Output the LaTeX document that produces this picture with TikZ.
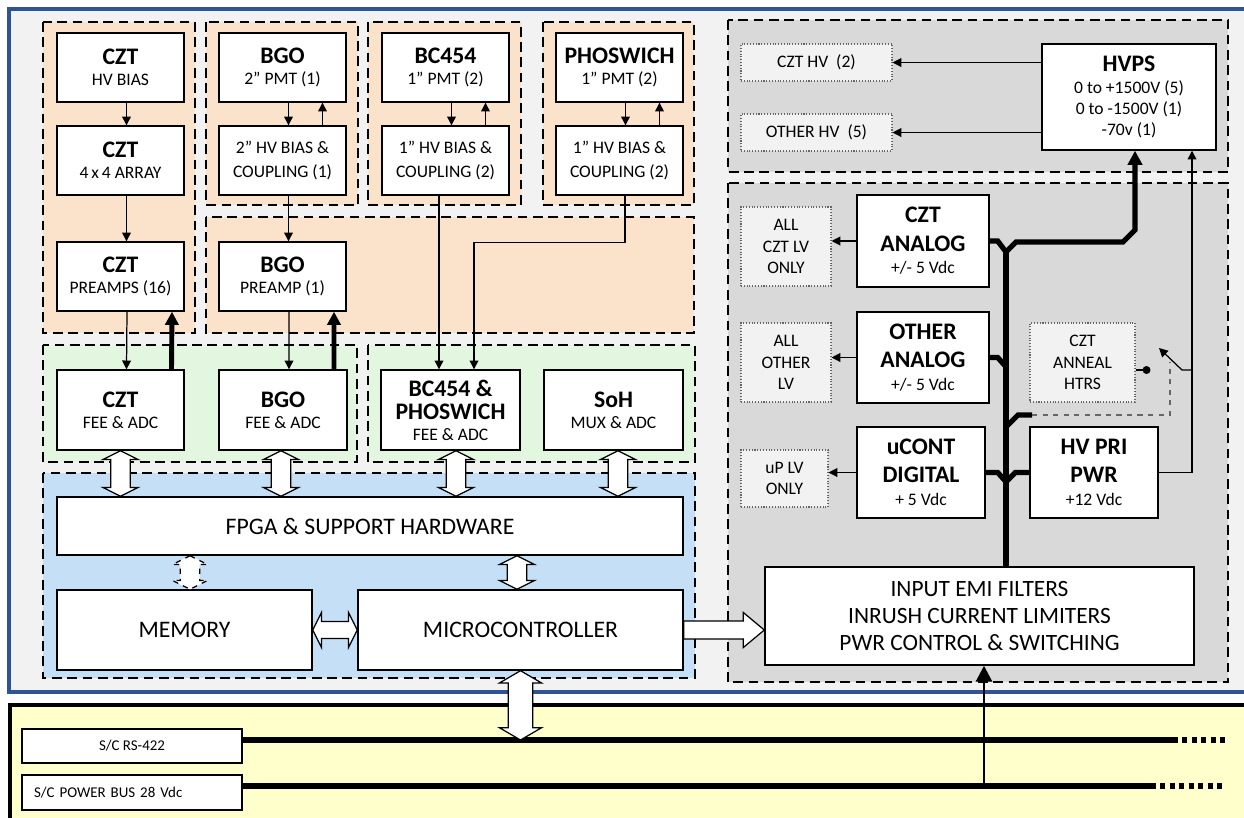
\documentclass[tikz,border=0pt]{standalone}
\usepackage{fontspec}
\setmainfont{Carlito}
\usetikzlibrary{arrows.meta,calc}

\definecolor{outerbg}{RGB}{242,242,242}
\definecolor{orangebg}{RGB}{251,226,203}
\definecolor{greenbg}{RGB}{226,246,224}
\definecolor{bluebg}{RGB}{197,223,247}
\definecolor{graybg}{RGB}{217,217,217}
\definecolor{yellowbg}{RGB}{255,255,204}
\definecolor{frameblue}{RGB}{47,84,150}

\newcommand{\hd}[1]{{\fontsize{13.5}{16}\selectfont\bfseries #1}}
\def\fhw{10pt}
\def\fsw{5.5pt}
\def\fhl{5pt}

\begin{document}
\begin{tikzpicture}[
  x=0.02cm, y=-0.02cm,
  font=\fontsize{10}{12}\selectfont,
  sz/.style 2 args={minimum width=#1*0.02cm, minimum height=#2*0.02cm},
  wbox/.style={draw, fill=white, line width=0.8pt, align=center, inner sep=0pt},
  big/.style={font=\fontsize{13.5}{15}\selectfont},
  dotbox/.style={draw=black!60, densely dotted, line width=0.6pt, fill=outerbg, align=center, inner sep=0pt, font=\fontsize{10}{12.3}\selectfont},
  region/.style={line width=1.5pt, dash pattern=on 5.5pt off 3.2pt},
  sig/.style={line width=0.7pt, -{Triangle[length=5pt,width=5pt]}},
  pwr/.style={line width=2.8pt, -{Triangle[length=7.5pt,width=7.5pt]}},
  bus/.style={line width=3pt},
  busdots/.style={line width=3pt, dash pattern=on 2.8pt off 2.6pt},
  ctrl/.style={line width=0.7pt, dashed, black!60},
  fatbox/.style={draw, fill=white, line width=0.7pt},
  fatsize/.code n args={3}{\def\fhw{#1}\def\fsw{#2}\def\fhl{#3}},
  fatv/.style={to path={let \p1=(\tikztostart), \p2=(\tikztotarget), \n1={sign(\y2-\y1)*\fhl} in
    (\x1,\y1) -- ({\x1+\fhw},{\y1+\n1}) -- ({\x1+\fsw},{\y1+\n1}) -- ({\x1+\fsw},{\y2-\n1})
    -- ({\x1+\fhw},{\y2-\n1}) -- (\x1,\y2) -- ({\x1-\fhw},{\y2-\n1}) -- ({\x1-\fsw},{\y2-\n1})
    -- ({\x1-\fsw},{\y1+\n1}) -- ({\x1-\fhw},{\y1+\n1}) -- cycle}},
  fath/.style={to path={let \p1=(\tikztostart), \p2=(\tikztotarget), \n1={sign(\x2-\x1)*\fhl} in
    (\x1,\y1) -- ({\x1+\n1},{\y1+\fhw}) -- ({\x1+\n1},{\y1+\fsw}) -- ({\x2-\n1},{\y1+\fsw})
    -- ({\x2-\n1},{\y1+\fhw}) -- (\x2,\y1) -- ({\x2-\n1},{\y1-\fhw}) -- ({\x2-\n1},{\y1-\fsw})
    -- ({\x1+\n1},{\y1-\fsw}) -- ({\x1+\n1},{\y1-\fhw}) -- cycle}},
  fatr/.style={to path={let \p1=(\tikztostart), \p2=(\tikztotarget) in
    (\x1,{\y1+\fsw}) -- ({\x2-\fhl},{\y1+\fsw}) -- ({\x2-\fhl},{\y1+\fhw}) -- (\x2,\y1)
    -- ({\x2-\fhl},{\y1-\fhw}) -- ({\x2-\fhl},{\y1-\fsw}) -- (\x1,{\y1-\fsw}) -- cycle}}
]
\useasboundingbox (0,0) rectangle (1244,818);

% outer frame and spacecraft panel (both run off the right edge)
\fill[outerbg] (9,9) rectangle (1244,692);
\draw[frameblue, line width=1.8pt] (1244,9) -- (9,9) -- (9,692) -- (1244,692);
\fill[yellowbg] (10,705) rectangle (1244,818);
\draw[line width=1.8pt] (1244,705) -- (10,705) -- (10,818);

% dashed regions
\foreach \xa/\ya/\xb/\yb in {43/22/195/333, 206/22/358/205, 368/22/521/205, 543/22/694/205, 206/217/694/333}
  \draw[region, fill=orangebg] (\xa,\ya) rectangle (\xb,\yb);
\foreach \xa/\xb in {43/357, 368/695}
  \draw[region, fill=greenbg] (\xa,345) rectangle (\xb,462);
\draw[region, fill=bluebg] (43,473) rectangle (695,678);
\draw[region, fill=graybg] (728,20) rectangle (1228,172);
\draw[region, fill=graybg] (728,183) rectangle (1228,682);

% detector chains
\node[wbox, sz={127}{69}] (cztbias) at (120.5,67.5) {\hd{CZT}\\HV BIAS};
\node[wbox, sz={127}{69}] (cztarr) at (120.5,160.5) {\hd{CZT}\\4\,x\,4 ARRAY};
\node[wbox, sz={127}{69}] (cztpre) at (120.5,276.5) {\hd{CZT}\\PREAMPS (16)};
\node[wbox, sz={127}{69}] (bgopmt) at (282.5,67.5) {\hd{BGO}\\2” PMT (1)};
\node[wbox, sz={127}{69}] (bgobias) at (282.5,160.5) {2” HV BIAS \&\\[2pt]COUPLING (1)};
\node[wbox, sz={127}{69}] (bgopre) at (282.5,276.5) {\hd{BGO}\\PREAMP (1)};
\node[wbox, sz={127}{69}] (bcpmt) at (445.5,67.5) {\hd{BC454}\\1” PMT (2)};
\node[wbox, sz={127}{69}] (bcbias) at (445.5,160.5) {1” HV BIAS \&\\[2pt]COUPLING (2)};
\node[wbox, sz={127}{69}] (phpmt) at (619.5,67.5) {\hd{PHOSWICH}\\1” PMT (2)};
\node[wbox, sz={127}{69}] (phbias) at (619.5,160.5) {1” HV BIAS \&\\[2pt]COUPLING (2)};

% front ends
\node[wbox, sz={127}{80}] (cztfee) at (120.5,410) {\hd{CZT}\\FEE \& ADC};
\node[wbox, sz={128}{80}] (bgofee) at (283,410) {\hd{BGO}\\FEE \& ADC};
\node[wbox, sz={139}{80}] (bcfee) at (450.5,410) {\hd{BC454 \&}\\[1pt]\hd{PHOSWICH}\\FEE \& ADC};
\node[wbox, sz={139}{80}] (sohfee) at (613.5,410) {\hd{SoH}\\MUX \& ADC};

% processing
\node[wbox, big, sz={626}{58}] (fpga) at (370,526) {FPGA \& SUPPORT HARDWARE};
\node[wbox, big, sz={255}{80}] (mem) at (184.5,630) {MEMORY};
\node[wbox, big, sz={325}{80}] (uc) at (520.5,630) {MICROCONTROLLER};
\node[wbox, sz={429}{98}, font=\fontsize{13.3}{15.5}\selectfont] (emi) at (979.5,616) {INPUT EMI FILTERS\\INRUSH CURRENT LIMITERS\\PWR CONTROL \& SWITCHING};

% power supplies
\node[dotbox, sz={151}{37}] (czthv) at (816.5,62.5) {CZT HV\ \ (2)};
\node[dotbox, sz={151}{37}] (othhv) at (816.5,132.5) {OTHER HV\ \ (5)};
\node[wbox, sz={174}{106}] (hvps) at (1129,97) {\hd{HVPS}\\0 to +1500V (5)\\0 to -1500V (1)\\-70v (1)};
\node[dotbox, sz={90}{79}] (cztlv) at (786,246.5) {ALL\\CZT LV\\ONLY};
\node[wbox, sz={132}{92}] (cztana) at (923,241) {\hd{CZT}\\[4pt]\hd{ANALOG}\\[1pt]+/- 5 Vdc};
\node[dotbox, sz={90}{79}] (othlv) at (786,362.5) {ALL\\OTHER\\LV};
\node[wbox, sz={132}{91}] (othana) at (923,357.5) {\hd{OTHER}\\[4pt]\hd{ANALOG}\\[1pt]+/- 5 Vdc};
\node[dotbox, sz={105}{79}] (anneal) at (1082.5,362.5) {CZT\\ANNEAL\\HTRS};
\node[dotbox, sz={87}{57}] (uplv) at (784.5,478.5) {uP LV\\ONLY};
\node[wbox, sz={128}{91}] (ucdig) at (921,472.5) {\hd{uCONT}\\[4pt]\hd{DIGITAL}\\[1pt]+ 5 Vdc};
\node[wbox, sz={128}{91}] (hvpri) at (1094,472.5) {\hd{HV PRI}\\[4pt]\hd{PWR}\\[1pt]+12 Vdc};

% spacecraft interfaces
\node[wbox, sz={220}{34}, font=\fontsize{8.5}{10}\selectfont] (rs) at (132,746) {S/C RS-422};
\node[wbox, sz={220}{35}, font=\fontsize{8.5}{10}\selectfont, align=left, text width=196*0.02cm] (pbus) at (132,792.5) {S/C POWER BUS 28 Vdc};

% detector signal paths
\draw[sig] ($(cztbias.south)+(6,0)$) -- ($(cztarr.north)+(6,0)$);
\draw[sig] ($(cztarr.south)+(6,0)$) -- ($(cztpre.north)+(6,0)$);
\foreach \pmt/\bias in {bgopmt/bgobias, bcpmt/bcbias, phpmt/phbias}{
  \draw[sig] ($(\pmt.south)+(6,0)$) -- ($(\bias.north)+(6,0)$);
  \draw[sig] ($(\bias.north)+(40,0)$) -- ($(\pmt.south)+(40,0)$);
}
\draw[sig] ($(bgobias.south)+(6,0)$) -- ($(bgopre.north)+(6,0)$);
\foreach \pre/\fee in {cztpre/cztfee, bgopre/bgofee}{
  \draw[sig] ($(\pre.south)+(6.5,0)$) -- ($(\fee.north)+(6,0)$);
  \draw[pwr] ($(\fee.north)+(51,0)$) -- ($(\pre.south)+(51.5,0)$);
}
\coordinate (bcd) at ($(bcbias.south)+(-6.5,0)$);
\draw[sig] (bcd) -- (bcd |- bcfee.north);
\coordinate (phd) at ($(phbias.south)+(5.5,0)$);
\draw[sig] (phd) -- ++(0,47) -| ($(bcfee.north)+(23.5,0)$);

% data paths
\foreach \fee/\dx in {cztfee/0, bgofee/-2, bcfee/5.5, sohfee/4.5}{
  \coordinate (fd) at ($(\fee.south)+(\dx,0)$);
  \draw[fatbox] (fd) to[fatv] (fd |- fpga.north);
}
\coordinate (md) at ($(mem.north)+(5.5,0)$);
\draw[fatbox, dashed] (md |- fpga.south) to[fatv] (md);
\coordinate (ud) at ($(uc.north)+(-3.5,0)$);
\draw[fatbox] (ud |- fpga.south) to[fatv] (ud);
\draw[fatbox, fatsize={10pt}{4.8pt}{5pt}] (mem.east) to[fath] (uc.west);
\draw[fatbox, fatsize={10pt}{5.1pt}{12pt}] (uc.east) to[fatr] (uc.east -| emi.west);

% spacecraft buses
\coordinate (rsl) at ($(rs.east)+(0,-6)$);
\coordinate (pbl) at ($(pbus.east)+(0,-6.5)$);
\draw[bus] (rsl) -- ++(930,0) coordinate (rse);
\draw[busdots] (rse) -- ++(52,0);
\draw[bus] (pbl) -- ++(908,0) coordinate (pbe);
\draw[busdots] (pbe) -- ++(74,0);
\draw[fatbox, fatsize={12pt}{7pt}{7pt}] (uc.south) to[fatv] (uc.south |- rsl);
\coordinate (emin) at ($(emi.south)+(4.5,0)$);
\draw[line width=1.6pt, -{Triangle[length=9pt,width=9pt]}] (emin |- pbl) -- (emin);

% HV outputs
\draw[sig] (czthv.east -| hvps.west) -- (czthv.east);
\draw[sig] (othhv.east -| hvps.west) -- (othhv.east);

% LV outputs
\draw[sig] (cztana.west) -- (cztana.west -| cztlv.east);
\draw[sig] (othana.west) -- (othana.west -| othlv.east);
\draw[sig] (ucdig.west) -- (ucdig.west -| uplv.east);

% secondary power bus
\coordinate (bt) at (1006,252);
\coordinate (bk) at (1006,427);
\coordinate (hvin) at ($(hvps.south)+(6,0)$);
\coordinate (hvin2) at ($(hvps.south)+(63,0)$);
\draw[bus] (bt) -- (bt |- emi.north);
\draw[bus] (cztana.east) -- ++(8,0) -- (bt);
\draw[bus, -{Triangle[length=8pt,width=8pt]}] (bt) -- ++(10,-10) -- ++(107,0) -- ++(12,-12) -- (hvin);
\draw[bus] (othana.east) -- ++(8,0) -- ++(9,10);
\draw[bus] (ucdig.east) -- ++(12,0) -- ++(9,10);
\draw[bus] (hvpri.west) -- ++(-14,0) -- ++(-10,10);
\draw[bus] (bk) -- ++(12,-12) -- ++(14,0) coordinate (swc);
\draw[ctrl] (swc) -- ++(138,0) -- ++(0,-53);

% HV primary and anneal heater switch
\draw[sig] (hvpri.east) -- (hvpri.east -| hvin2) -- (hvin2);
\coordinate (swp) at (1182,370);
\draw[line width=0.7pt, -{Triangle[length=5pt,width=5pt]}] (swp -| hvin2) -- (swp) -- ++(-23,-22);
\draw[line width=0.7pt] ($(anneal.east)+(0,7.5)$) -- ++(11,0) node[circle, fill, inner sep=0pt, minimum size=8*0.02cm] (dot) {};

\end{tikzpicture}
\end{document}
